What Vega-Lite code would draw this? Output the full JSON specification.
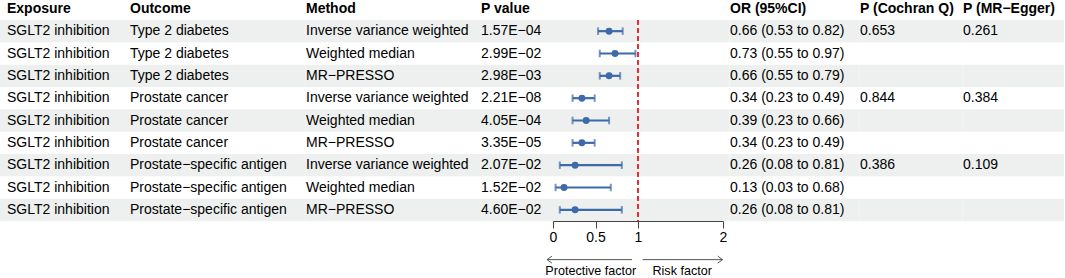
{
  "$schema": "https://vega.github.io/schema/vega-lite/v6.json",
  "padding": 0,
  "background": "white",
  "spacing": 0,
  "bounds": "flush",
  "datasets": {
    "rows": [
      {"row": 1, "exposure": "SGLT2 inhibition", "outcome": "Type 2 diabetes", "method": "Inverse variance weighted", "p": "1.57E−04", "or": 0.66, "lo": 0.53, "hi": 0.82, "ci": "0.66 (0.53 to 0.82)", "q": "0.653", "egger": "0.261"},
      {"row": 2, "exposure": "SGLT2 inhibition", "outcome": "Type 2 diabetes", "method": "Weighted median", "p": "2.99E−02", "or": 0.73, "lo": 0.55, "hi": 0.97, "ci": "0.73 (0.55 to 0.97)", "q": "", "egger": ""},
      {"row": 3, "exposure": "SGLT2 inhibition", "outcome": "Type 2 diabetes", "method": "MR−PRESSO", "p": "2.98E−03", "or": 0.66, "lo": 0.55, "hi": 0.79, "ci": "0.66 (0.55 to 0.79)", "q": "", "egger": ""},
      {"row": 4, "exposure": "SGLT2 inhibition", "outcome": "Prostate cancer", "method": "Inverse variance weighted", "p": "2.21E−08", "or": 0.34, "lo": 0.23, "hi": 0.49, "ci": "0.34 (0.23 to 0.49)", "q": "0.844", "egger": "0.384"},
      {"row": 5, "exposure": "SGLT2 inhibition", "outcome": "Prostate cancer", "method": "Weighted median", "p": "4.05E−04", "or": 0.39, "lo": 0.23, "hi": 0.66, "ci": "0.39 (0.23 to 0.66)", "q": "", "egger": ""},
      {"row": 6, "exposure": "SGLT2 inhibition", "outcome": "Prostate cancer", "method": "MR−PRESSO", "p": "3.35E−05", "or": 0.34, "lo": 0.23, "hi": 0.49, "ci": "0.34 (0.23 to 0.49)", "q": "", "egger": ""},
      {"row": 7, "exposure": "SGLT2 inhibition", "outcome": "Prostate−specific antigen", "method": "Inverse variance weighted", "p": "2.07E−02", "or": 0.26, "lo": 0.08, "hi": 0.81, "ci": "0.26 (0.08 to 0.81)", "q": "0.386", "egger": "0.109"},
      {"row": 8, "exposure": "SGLT2 inhibition", "outcome": "Prostate−specific antigen", "method": "Weighted median", "p": "1.52E−02", "or": 0.13, "lo": 0.03, "hi": 0.68, "ci": "0.13 (0.03 to 0.68)", "q": "", "egger": ""},
      {"row": 9, "exposure": "SGLT2 inhibition", "outcome": "Prostate−specific antigen", "method": "MR−PRESSO", "p": "4.60E−02", "or": 0.26, "lo": 0.08, "hi": 0.81, "ci": "0.26 (0.08 to 0.81)", "q": "", "egger": ""}
    ]
  },
  "hconcat": [
    {
      "width": 130, "height": 221,
      "layer": [
        {"data": {"name": "rows"}, "transform": [{"filter": "datum.row % 2 == 1"}, {"calculate": "datum.row - 0.5", "as": "y0"}, {"calculate": "datum.row + 0.5", "as": "y1"}],
         "mark": {"type": "rect", "color": "#EDF0EE"},
         "encoding": {"y": {"field": "y0", "type": "quantitative", "scale": {"domain": [-0.3957, 9.5], "reverse": true, "nice": false, "zero": false}, "axis": null}, "y2": {"field": "y1"}}},
        {"data": {"name": "rows"}, "mark": {"type": "text", "dx": 7},
         "encoding": {"x": {"value": 0}, "y": {"field": "row", "type": "quantitative"}, "text": {"field": "exposure"}}},
        {"data": {"values": [{"h": "Exposure"}]}, "mark": {"type": "text", "dx": 7, "fontWeight": "bold"},
         "encoding": {"x": {"value": 0}, "y": {"datum": 0, "type": "quantitative"}, "text": {"field": "h"}}}
      ]
    },
    {
      "width": 175.7, "height": 221,
      "layer": [
        {"data": {"name": "rows"}, "transform": [{"filter": "datum.row % 2 == 1"}, {"calculate": "datum.row - 0.5", "as": "y0"}, {"calculate": "datum.row + 0.5", "as": "y1"}],
         "mark": {"type": "rect", "color": "#EDF0EE"},
         "encoding": {"y": {"field": "y0", "type": "quantitative", "scale": {"domain": [-0.3957, 9.5], "reverse": true, "nice": false, "zero": false}, "axis": null}, "y2": {"field": "y1"}}},
        {"data": {"name": "rows"}, "mark": {"type": "text"},
         "encoding": {"x": {"value": 0}, "y": {"field": "row", "type": "quantitative"}, "text": {"field": "outcome"}}},
        {"data": {"values": [{"h": "Outcome"}]}, "mark": {"type": "text", "fontWeight": "bold"},
         "encoding": {"x": {"value": 0}, "y": {"datum": 0, "type": "quantitative"}, "text": {"field": "h"}}}
      ]
    },
    {
      "width": 175, "height": 221,
      "layer": [
        {"data": {"name": "rows"}, "transform": [{"filter": "datum.row % 2 == 1"}, {"calculate": "datum.row - 0.5", "as": "y0"}, {"calculate": "datum.row + 0.5", "as": "y1"}],
         "mark": {"type": "rect", "color": "#EDF0EE"},
         "encoding": {"y": {"field": "y0", "type": "quantitative", "scale": {"domain": [-0.3957, 9.5], "reverse": true, "nice": false, "zero": false}, "axis": null}, "y2": {"field": "y1"}}},
        {"data": {"name": "rows"}, "mark": {"type": "text"},
         "encoding": {"x": {"value": 0}, "y": {"field": "row", "type": "quantitative"}, "text": {"field": "method"}}},
        {"data": {"values": [{"h": "Method"}]}, "mark": {"type": "text", "fontWeight": "bold"},
         "encoding": {"x": {"value": 0}, "y": {"datum": 0, "type": "quantitative"}, "text": {"field": "h"}}}
      ]
    },
    {
      "width": 248.6, "height": 221,
      "layer": [
        {"data": {"name": "rows"}, "transform": [{"filter": "datum.row % 2 == 1"}, {"calculate": "datum.row - 0.5", "as": "y0"}, {"calculate": "datum.row + 0.5", "as": "y1"}],
         "mark": {"type": "rect", "color": "#EDF0EE"},
         "encoding": {"y": {"field": "y0", "type": "quantitative", "scale": {"domain": [-0.3957, 9.5], "reverse": true, "nice": false, "zero": false}, "axis": null}, "y2": {"field": "y1"}}},
        {"data": {"name": "rows"}, "mark": {"type": "text"},
         "encoding": {"x": {"value": 0}, "y": {"field": "row", "type": "quantitative"}, "text": {"field": "p"}}},
        {"data": {"values": [{"h": "P value"}]}, "mark": {"type": "text", "fontWeight": "bold"},
         "encoding": {"x": {"value": 0}, "y": {"datum": 0, "type": "quantitative"}, "text": {"field": "h"}}},
        {"data": {"values": [{}]}, "mark": {"type": "rule", "color": "#E41A1C", "strokeDash": [5, 3], "strokeWidth": 1.8},
         "encoding": {"x": {"datum": 1, "type": "quantitative"}, "y": {"datum": 0.5, "type": "quantitative"}, "y2": {"datum": 9.5}}},
        {"data": {"name": "rows"},
         "mark": {"type": "errorbar", "color": "#3D6AAB", "ticks": {"size": 7.5, "thickness": 2}, "rule": {"strokeWidth": 2.2}},
         "encoding": {
           "x": {"field": "lo", "type": "quantitative", "scale": {"domain": [0, 2], "range": [72, 242], "nice": false, "zero": false},
                 "axis": {"values": [0, 0.5, 1, 2], "format": "~g", "title": null, "grid": false, "tickSize": 7, "labelFontSize": 14, "labelFont": "Liberation Sans", "labelColor": "#000", "domainColor": "#444", "tickColor": "#444", "labelPadding": 2, "labelFlush": false, "labelOverlap": false}},
           "x2": {"field": "hi"},
           "y": {"field": "row", "type": "quantitative"}}},
        {"data": {"name": "rows"}, "mark": {"type": "point", "shape": "circle", "filled": true, "size": 48, "color": "#3D6AAB", "opacity": 1},
         "encoding": {"x": {"field": "or", "type": "quantitative"}, "y": {"field": "row", "type": "quantitative"}}},
        {"data": {"values": [{}]}, "mark": {"type": "rule", "color": "#555", "strokeWidth": 1},
         "encoding": {"x": {"datum": -0.07, "type": "quantitative"}, "x2": {"datum": 0.93}, "y": {"datum": 11.23, "type": "quantitative"}}},
        {"data": {"values": [{}]}, "mark": {"type": "rule", "color": "#555", "strokeWidth": 1},
         "encoding": {"x": {"datum": 1.055, "type": "quantitative"}, "x2": {"datum": 1.995}, "y": {"datum": 11.23, "type": "quantitative"}}},
        {"data": {"values": [{}]}, "mark": {"type": "point", "shape": "M1.4,-1L0,0L1.4,1", "filled": false, "size": 49, "color": "#555", "strokeWidth": 1, "opacity": 1},
         "encoding": {"x": {"datum": -0.07, "type": "quantitative"}, "y": {"datum": 11.23, "type": "quantitative"}}},
        {"data": {"values": [{}]}, "mark": {"type": "point", "shape": "M-1.4,-1L0,0L-1.4,1", "filled": false, "size": 49, "color": "#555", "strokeWidth": 1, "opacity": 1},
         "encoding": {"x": {"datum": 1.995, "type": "quantitative"}, "y": {"datum": 11.23, "type": "quantitative"}}},
        {"data": {"values": [{"t": "Protective factor"}]}, "mark": {"type": "text", "align": "center", "fontSize": 12.6},
         "encoding": {"x": {"datum": 0.445, "type": "quantitative"}, "y": {"datum": 11.75, "type": "quantitative"}, "text": {"field": "t"}}},
        {"data": {"values": [{"t": "Risk factor"}]}, "mark": {"type": "text", "align": "center", "fontSize": 12.6},
         "encoding": {"x": {"datum": 1.52, "type": "quantitative"}, "y": {"datum": 11.75, "type": "quantitative"}, "text": {"field": "t"}}}
      ]
    },
    {
      "width": 129.7, "height": 221,
      "layer": [
        {"data": {"name": "rows"}, "transform": [{"filter": "datum.row % 2 == 1"}, {"calculate": "datum.row - 0.5", "as": "y0"}, {"calculate": "datum.row + 0.5", "as": "y1"}],
         "mark": {"type": "rect", "color": "#EDF0EE"},
         "encoding": {"y": {"field": "y0", "type": "quantitative", "scale": {"domain": [-0.3957, 9.5], "reverse": true, "nice": false, "zero": false}, "axis": null}, "y2": {"field": "y1"}}},
        {"data": {"name": "rows"}, "mark": {"type": "text"},
         "encoding": {"x": {"value": 0}, "y": {"field": "row", "type": "quantitative"}, "text": {"field": "ci"}}},
        {"data": {"values": [{"h": "OR (95%CI)"}]}, "mark": {"type": "text", "fontWeight": "bold"},
         "encoding": {"x": {"value": 0}, "y": {"datum": 0, "type": "quantitative"}, "text": {"field": "h"}}}
      ]
    },
    {
      "width": 102.7, "height": 221,
      "layer": [
        {"data": {"name": "rows"}, "transform": [{"filter": "datum.row % 2 == 1"}, {"calculate": "datum.row - 0.5", "as": "y0"}, {"calculate": "datum.row + 0.5", "as": "y1"}],
         "mark": {"type": "rect", "color": "#EDF0EE"},
         "encoding": {"y": {"field": "y0", "type": "quantitative", "scale": {"domain": [-0.3957, 9.5], "reverse": true, "nice": false, "zero": false}, "axis": null}, "y2": {"field": "y1"}}},
        {"data": {"name": "rows"}, "mark": {"type": "text"},
         "encoding": {"x": {"value": 0}, "y": {"field": "row", "type": "quantitative"}, "text": {"field": "q"}}},
        {"data": {"values": [{"h": "P (Cochran Q)"}]}, "mark": {"type": "text", "fontWeight": "bold"},
         "encoding": {"x": {"value": 0}, "y": {"datum": 0, "type": "quantitative"}, "text": {"field": "h"}}}
      ]
    },
    {
      "width": 101, "height": 221,
      "layer": [
        {"data": {"name": "rows"}, "transform": [{"filter": "datum.row % 2 == 1"}, {"calculate": "datum.row - 0.5", "as": "y0"}, {"calculate": "datum.row + 0.5", "as": "y1"}],
         "mark": {"type": "rect", "color": "#EDF0EE"},
         "encoding": {"y": {"field": "y0", "type": "quantitative", "scale": {"domain": [-0.3957, 9.5], "reverse": true, "nice": false, "zero": false}, "axis": null}, "y2": {"field": "y1"}}},
        {"data": {"name": "rows"}, "mark": {"type": "text"},
         "encoding": {"x": {"value": 0}, "y": {"field": "row", "type": "quantitative"}, "text": {"field": "egger"}}},
        {"data": {"values": [{"h": "P (MR−Egger)"}]}, "mark": {"type": "text", "fontWeight": "bold"},
         "encoding": {"x": {"value": 0}, "y": {"datum": 0, "type": "quantitative"}, "text": {"field": "h"}}}
      ]
    }
  ],
  "config": {
    "view": {"stroke": null},
    "text": {"font": "Liberation Sans", "fontSize": 14, "baseline": "middle", "align": "left", "color": "#000"}
  }
}
